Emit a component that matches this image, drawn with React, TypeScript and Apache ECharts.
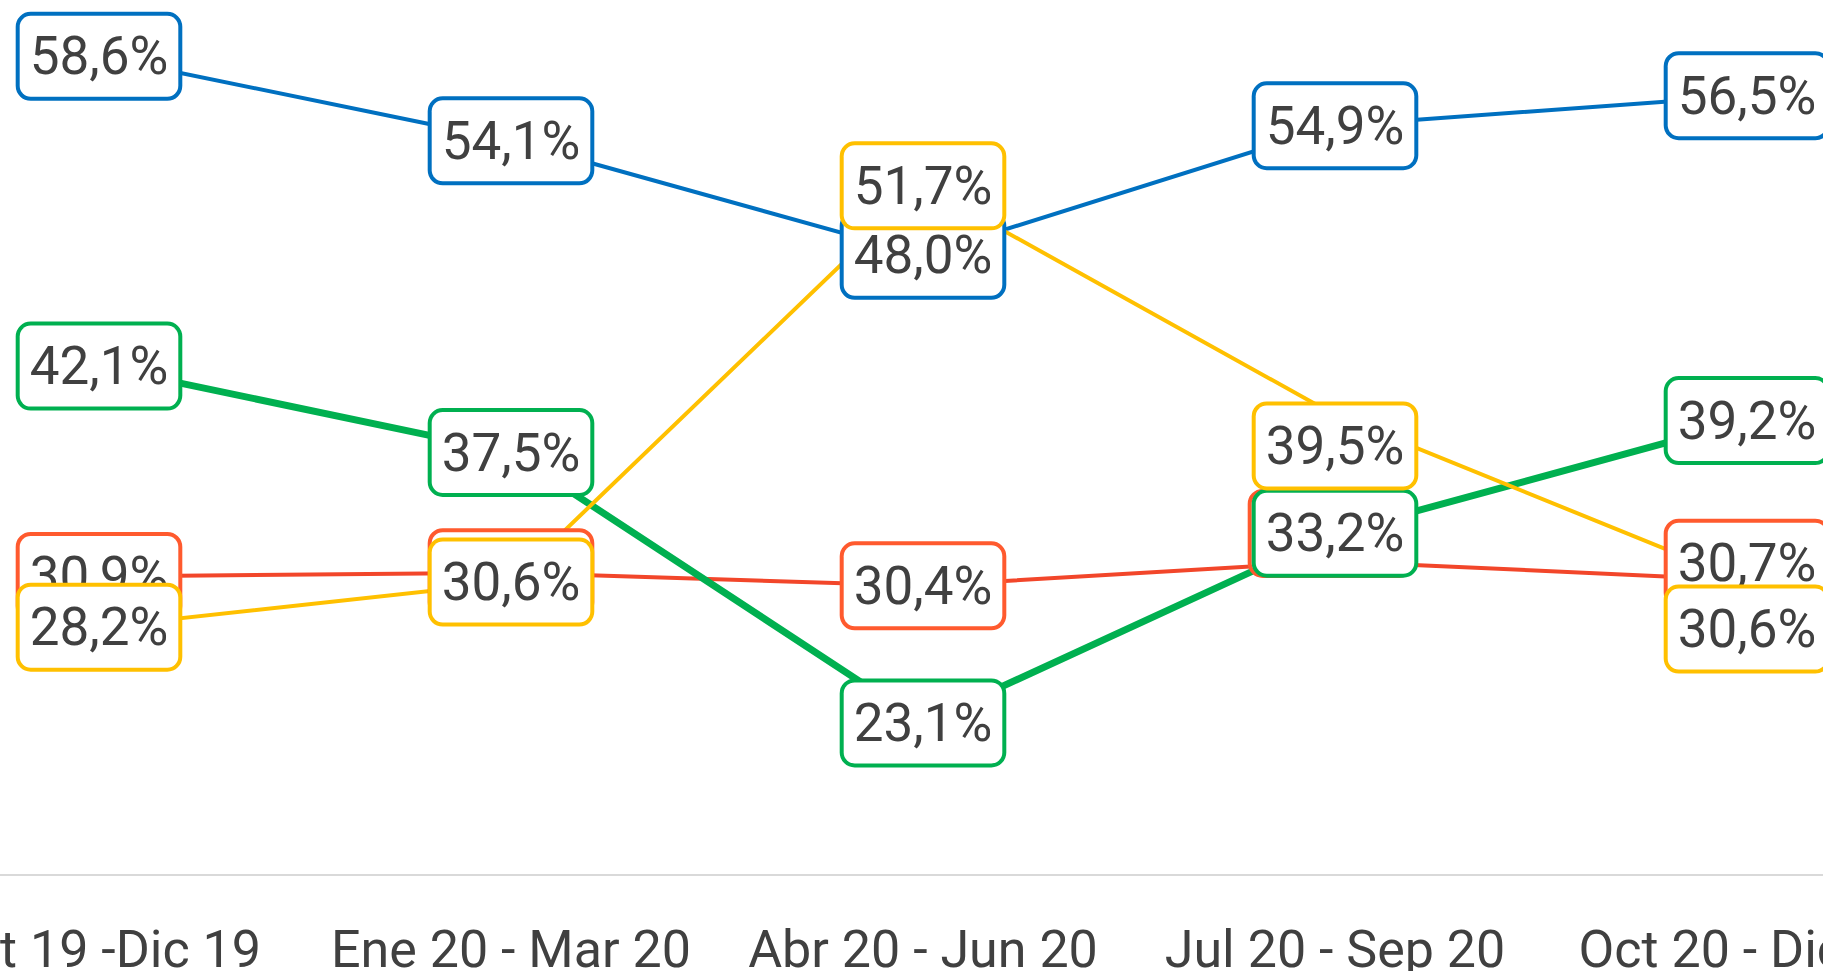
import React, { useEffect, useRef } from 'react';
import * as echarts from 'echarts';

const categories = ['Oct 19 -Dic 19', 'Ene 20 - Mar 20', 'Abr 20 - Jun 20', 'Jul 20 - Sep 20', 'Oct 20 - Dic 20'];
const blueValues = [58.6, 54.1, 48.0, 54.9, 56.5];
const redValues = [30.9, 31.1, 30.4, 31.7, 30.7];
const greenValues = [42.1, 37.5, 23.1, 33.2, 39.2];
const yellowValues = [28.2, 30.6, 51.7, 39.5, 30.6];

// manually displaced data labels ([dx, dy] in px), as in the source chart
const blueLabelShift = [[0, 0], [0, 0], [0, 0], [0, 0], [0, 0]];
const redLabelShift = [[0, 0], [0, 0], [0, 0], [-4, -28], [0, -17]];
const greenLabelShift = [[0, 0], [0, 0], [0, 0], [0, 0], [0, 0]];
const yellowLabelShift = [[0, 0], [0, 0], [0, 0], [0, 31], [0, 47]];

const fmt = (v: number) => v.toFixed(1).replace('.', ',') + '%';

function makeSeries(name: string, values: number[], shifts: number[][], color: string, lineColor: string, width: number) {
  return {
    name,
    type: 'line',
    data: values.map((v, i) => ({
      value: v,
      label: shifts[i][0] || shifts[i][1] ? { offset: shifts[i] } : undefined,
    })),
    symbol: 'circle',
    symbolSize: 1,
    showSymbol: true,
    itemStyle: { color: lineColor },
    lineStyle: { color: lineColor, width },
    emphasis: { disabled: true },
    label: {
      show: true,
      position: 'inside',
      formatter: (p: any) => fmt(p.value),
      fontFamily: 'Roboto',
      fontSize: 53,
      color: '#404040',
      backgroundColor: '#ffffff',
      borderColor: color,
      borderWidth: 4,
      borderRadius: 11,
      padding: [10, 10],
      lineHeight: 61,
    },
  };
}

const OFFSET_LEFT = 107;
const OFFSET_RIGHT = 130;

export default function App() {
  const ref = useRef<HTMLDivElement>(null);
  useEffect(() => {
    if (!ref.current) return;
    const chart = echarts.init(ref.current, undefined, { renderer: 'svg' });
    chart.setOption({
      animation: false,
      backgroundColor: '#ffffff',
      grid: { left: 0, right: 0, top: 30, bottom: 96, containLabel: false, outerBoundsMode: 'none' },
      xAxis: {
        type: 'category',
        data: categories,
        boundaryGap: true,
        axisLine: { show: true, lineStyle: { color: '#d9d9d9', width: 2 } },
        axisTick: { show: false },
        axisLabel: {
          interval: 0,
          margin: 44,
          fontFamily: 'Roboto',
          fontSize: 52,
          color: '#404040',
          lineHeight: 60,
        },
        splitLine: { show: false },
      },
      yAxis: {
        type: 'value',
        min: 15,
        max: 60,
        show: false,
        splitLine: { show: false },
      },
      tooltip: { show: false },
      series: [
        makeSeries('Azul', blueValues, blueLabelShift, '#0070C0', '#0070C0', 4),
        makeSeries('Rojo', redValues, redLabelShift, '#FF5A2E', '#F2462A', 4),
        makeSeries('Verde', greenValues, greenLabelShift, '#00B050', '#00B050', 7),
        makeSeries('Amarillo', yellowValues, yellowLabelShift, '#FFC000', '#FFC000', 4),
      ],
    });
    return () => chart.dispose();
  }, []);
  return (
    <div style={{ position: 'fixed', left: 0, top: 0, width: '1823px', height: '971px', overflow: 'hidden', background: '#fff' }}>
      <div
        ref={ref}
        style={{
          position: 'absolute',
          left: -OFFSET_LEFT + 'px',
          top: 0,
          width: 1823 + OFFSET_LEFT + OFFSET_RIGHT + 'px',
          height: '971px',
        }}
      />
    </div>
  );
}
